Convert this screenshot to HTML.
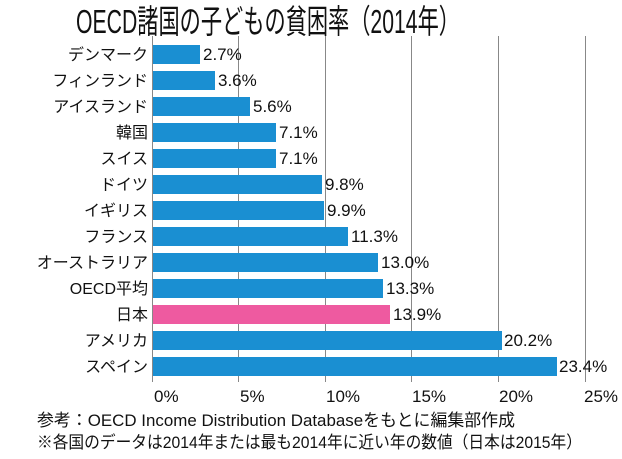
<!DOCTYPE html>
<html><head><meta charset="utf-8"><style>
html,body{margin:0;padding:0;background:#fff;width:622px;height:459px;overflow:hidden}
svg text{font-family:"Liberation Sans","Noto Sans CJK JP",sans-serif;fill:#111}
</style></head><body>
<svg width="622" height="459" viewBox="0 0 622 459" xmlns="http://www.w3.org/2000/svg">
<text x="76" y="33" font-size="33" textLength="384" lengthAdjust="spacingAndGlyphs">OECD諸国の子どもの貧困率（2014年）</text>
<g stroke="#888" stroke-width="1">
<line x1="238.5" y1="36" x2="238.5" y2="382"/>
<line x1="325.5" y1="36" x2="325.5" y2="382"/>
<line x1="411.5" y1="36" x2="411.5" y2="382"/>
<line x1="498.5" y1="36" x2="498.5" y2="382"/>
<line x1="585.5" y1="36" x2="585.5" y2="382"/>
<line x1="152.5" y1="36" x2="152.5" y2="382"/>
</g>
<g font-size="17">
<text x="154" y="402">0%</text><text x="240" y="402">5%</text><text x="326" y="402">10%</text><text x="412" y="402">15%</text><text x="499" y="402">20%</text><text x="584" y="402">25%</text>
</g>
<g id="bars" font-size="16">
<rect x="153" y="45" width="47" height="19" fill="#1a8fd2"/><text x="203" y="60" font-size="17">2.7%</text><text x="148" y="60" text-anchor="end">デンマーク</text>
<rect x="153" y="71" width="62" height="19" fill="#1a8fd2"/><text x="218" y="86" font-size="17">3.6%</text><text x="148" y="86" text-anchor="end">フィンランド</text>
<rect x="153" y="97" width="97" height="19" fill="#1a8fd2"/><text x="253" y="112" font-size="17">5.6%</text><text x="148" y="112" text-anchor="end">アイスランド</text>
<rect x="153" y="123" width="123" height="19" fill="#1a8fd2"/><text x="279" y="138" font-size="17">7.1%</text><text x="148" y="138" text-anchor="end">韓国</text>
<rect x="153" y="149" width="123" height="19" fill="#1a8fd2"/><text x="279" y="164" font-size="17">7.1%</text><text x="148" y="164" text-anchor="end">スイス</text>
<rect x="153" y="175" width="169" height="19" fill="#1a8fd2"/><text x="325" y="190" font-size="17">9.8%</text><text x="148" y="190" text-anchor="end">ドイツ</text>
<rect x="153" y="201" width="171" height="19" fill="#1a8fd2"/><text x="327" y="216" font-size="17">9.9%</text><text x="148" y="216" text-anchor="end">イギリス</text>
<rect x="153" y="227" width="195" height="19" fill="#1a8fd2"/><text x="351" y="242" font-size="17">11.3%</text><text x="148" y="242" text-anchor="end">フランス</text>
<rect x="153" y="253" width="225" height="19" fill="#1a8fd2"/><text x="381" y="268" font-size="17">13.0%</text><text x="148" y="268" text-anchor="end">オーストラリア</text>
<rect x="153" y="279" width="230" height="19" fill="#1a8fd2"/><text x="386" y="294" font-size="17">13.3%</text><text x="148" y="294" text-anchor="end">OECD平均</text>
<rect x="153" y="305" width="237" height="19" fill="#ee5aa0"/><text x="393" y="320" font-size="17">13.9%</text><text x="148" y="320" text-anchor="end">日本</text>
<rect x="153" y="331" width="349" height="19" fill="#1a8fd2"/><text x="504" y="346" font-size="17">20.2%</text><text x="148" y="346" text-anchor="end">アメリカ</text>
<rect x="153" y="357" width="404" height="19" fill="#1a8fd2"/><text x="559" y="372" font-size="17">23.4%</text><text x="148" y="372" text-anchor="end">スペイン</text>
</g>
<text x="37" y="426" font-size="17" textLength="478" lengthAdjust="spacingAndGlyphs">参考：OECD Income Distribution Databaseをもとに編集部作成</text>
<text x="37" y="448" font-size="17" textLength="545" lengthAdjust="spacingAndGlyphs">※各国のデータは2014年または最も2014年に近い年の数値（日本は2015年）</text>
</svg>
</body></html>
